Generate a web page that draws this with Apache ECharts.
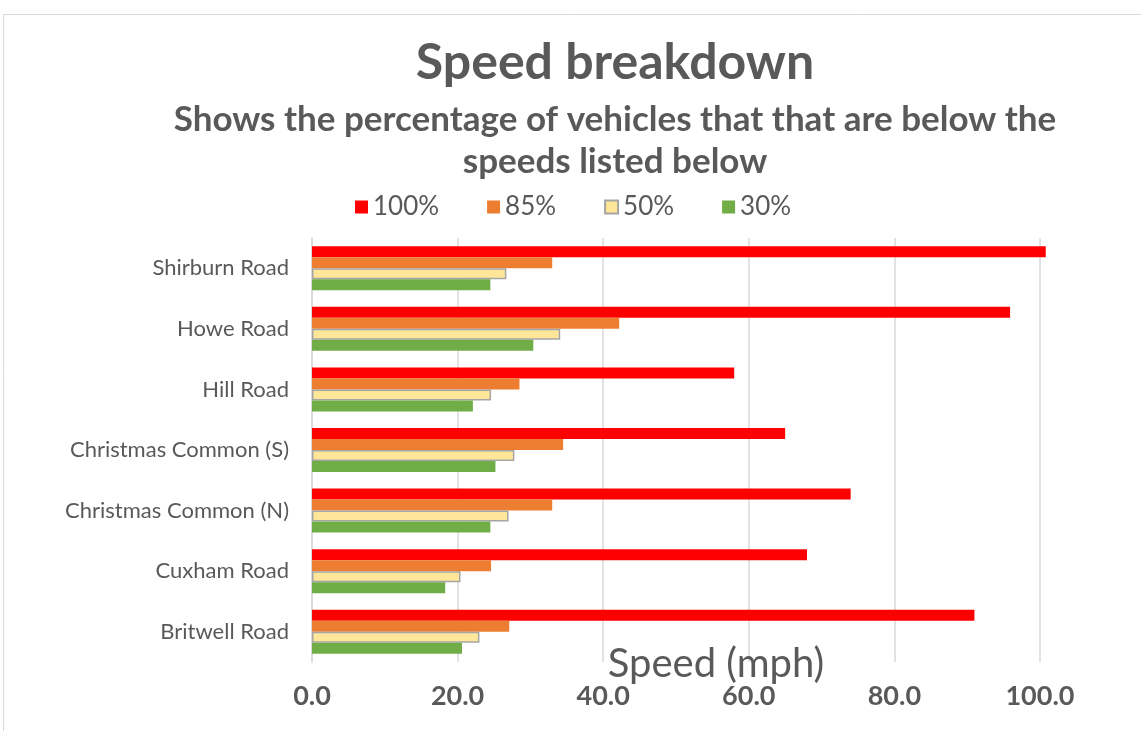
<!DOCTYPE html>
<html><head><meta charset="utf-8">
<script src="https://cdn.jsdelivr.net/npm/echarts@6/dist/echarts.min.js"></script>
<style>html,body{margin:0;padding:0;background:#fff}#c{width:1141px;height:731px}</style>
</head><body><div id="c"></div>
<script>
const categories = ['Shirburn Road','Howe Road','Hill Road','Christmas Common (S)','Christmas Common (N)','Cuxham Road','Britwell Road'];
const seriesNames = ['100%','85%','50%','30%'];
const p100 = [100.8, 95.9, 58.0, 65.0, 74.0, 68.0, 91.0];
const p85 = [33.0, 42.2, 28.5, 34.5, 33.0, 24.6, 27.1];
const p50 = [26.7, 34.1, 24.6, 27.8, 27.0, 20.4, 23.0];
const p30 = [24.5, 30.4, 22.1, 25.2, 24.5, 18.3, 20.6];
const titleText = 'Speed breakdown';
const subtitleText = 'Shows the percentage of vehicles that that are below the\nspeeds listed below';
const xAxisName = 'Speed (mph)';

const FONT = 'Lato';
const TXT = '#595959';
const colors = ['#FF0000', '#ED7D31', '#FFE699', '#70AD47'];
const values = [p100, p85, p50, p30];

const chart = echarts.init(document.getElementById('c'), null, {renderer: 'canvas'});
chart.setOption({
  animation: false,
  backgroundColor: '#fff',
  graphic: [{
    type: 'rect', shape: {x: 3.5, y: 14.5, width: 1200, height: 800},
    style: {fill: 'none', stroke: '#d9d9d9', lineWidth: 1}, silent: true, z: -1
  }],
  title: [{
    text: titleText, left: 610, top: 33, textAlign: 'center',
    textStyle: {fontFamily: FONT, fontWeight: 'bold', fontSize: 50, color: TXT}
  }, {
    text: subtitleText, left: 610, top: 94, textAlign: 'center',
    textStyle: {fontFamily: FONT, fontWeight: 'bold', fontSize: 35, color: TXT, lineHeight: 42}
  }],
  legend: {
    data: seriesNames, top: 189, left: 350,
    icon: 'rect', itemWidth: 13, itemHeight: 13, itemGap: 48,
    textStyle: {fontFamily: FONT, fontSize: 26, color: TXT}
  },
  grid: {left: 312, right: 21, top: 238, bottom: 69, containLabel: false, outerBoundsMode: 'none'},
  xAxis: {
    type: 'value', min: 0, max: 111, interval: 20,
    name: xAxisName, nameLocation: 'middle', nameGap: 2, nameMoveOverlap: false,
    nameTextStyle: {fontFamily: FONT, fontSize: 40, color: TXT, verticalAlign: 'middle'},
    axisLine: {show: false}, axisTick: {show: false},
    splitLine: {show: true, showMaxLine: false, lineStyle: {color: '#d9d9d9', width: 1.5}},
    axisLabel: {
      showMaxLabel: false, margin: 21, fontFamily: FONT, fontWeight: 'bold', fontSize: 27, color: TXT,
      formatter: v => v.toFixed(1)
    }
  },
  yAxis: {
    type: 'category', data: categories, inverse: true,
    axisLine: {show: true, lineStyle: {color: '#d9d9d9', width: 1.5}},
    axisTick: {show: false},
    axisLabel: {fontFamily: FONT, fontSize: 22, color: TXT, margin: 23}
  },
  series: seriesNames.map((n, i) => ({
    name: n, type: 'bar', data: values[i],
    barWidth: 11, barGap: '0%',
    itemStyle: i === 2 ? {color: colors[i], borderColor: '#A5A5A5', borderWidth: 1.5} : {color: colors[i]}
  }))
});
</script></body></html>
